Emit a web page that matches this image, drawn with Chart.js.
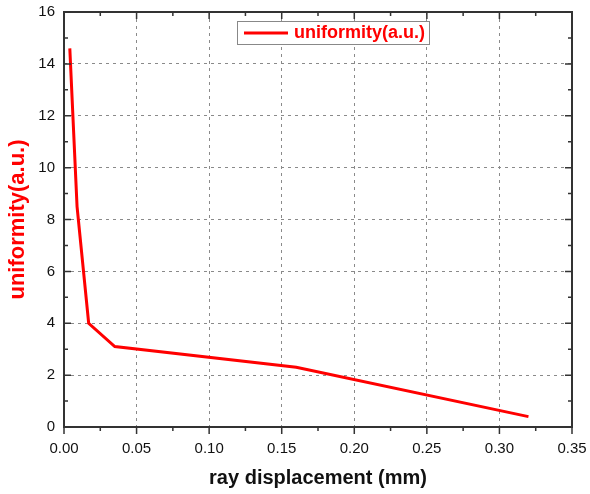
<!DOCTYPE html>
<html>
<head>
<meta charset="utf-8">
<script src="https://cdn.jsdelivr.net/npm/chart.js@4"></script>
<style>
    html, body { margin: 0; padding: 0; background: #fff; }
    #wrap { width: 590px; height: 494px; }
</style>
</head>
<body>
<div id="wrap"><canvas id="chart" width="590" height="494"></canvas></div>
<script>
// Data
const displacement = [0.004, 0.009, 0.017, 0.035, 0.16, 0.32];
const uniformity = [14.6, 8.5, 4.0, 3.1, 2.3, 0.4];
const xTicks = [0, 0.05, 0.10, 0.15, 0.20, 0.25, 0.30, 0.35];
const yTicks = [0, 2, 4, 6, 8, 10, 12, 14, 16];
const seriesLabel = 'uniformity(a.u.)';

const RED = '#ff0000';
const AXIS = '#333333';

// Box frame with inward ticks (left/top/right) and outward ticks at the bottom
const framePlugin = {
    id: 'frame',
    afterDraw(chart) {
        const { ctx, chartArea: a, scales } = chart;
        const x = scales.x, y = scales.y;
        ctx.save();
        ctx.strokeStyle = AXIS;
        ctx.lineWidth = 2;
        ctx.strokeRect(a.left, a.top, a.right - a.left, a.bottom - a.top);

        ctx.lineWidth = 1.5;
        ctx.beginPath();
        xTicks.forEach((v, i) => {
            const px = x.getPixelForValue(v);
            ctx.moveTo(px, a.bottom); ctx.lineTo(px, a.bottom + 7);
            ctx.moveTo(px, a.top); ctx.lineTo(px, a.top + 7);
            if (i < xTicks.length - 1) {
                const pm = x.getPixelForValue(v + 0.025);
                ctx.moveTo(pm, a.bottom); ctx.lineTo(pm, a.bottom + 4);
                ctx.moveTo(pm, a.top); ctx.lineTo(pm, a.top + 4);
            }
        });
        yTicks.forEach((v, i) => {
            const py = y.getPixelForValue(v);
            ctx.moveTo(a.left, py); ctx.lineTo(a.left + 7, py);
            ctx.moveTo(a.right, py); ctx.lineTo(a.right - 7, py);
            if (i < yTicks.length - 1) {
                const pm = y.getPixelForValue(v + 1);
                ctx.moveTo(a.left, pm); ctx.lineTo(a.left + 4, pm);
                ctx.moveTo(a.right, pm); ctx.lineTo(a.right - 4, pm);
            }
        });
        ctx.stroke();
        ctx.restore();
    }
};

// Legend box inside the plot, near the top
const legendPlugin = {
    id: 'boxLegend',
    afterDraw(chart) {
        const { ctx } = chart;
        const ds = chart.data.datasets[0];
        ctx.save();
        ctx.fillStyle = '#fff';
        ctx.fillRect(237, 21, 192, 23);
        ctx.strokeStyle = '#888';
        ctx.lineWidth = 1;
        ctx.strokeRect(237.5, 21.5, 192, 23);
        ctx.strokeStyle = ds.borderColor;
        ctx.lineWidth = 3;
        ctx.beginPath();
        ctx.moveTo(244, 33);
        ctx.lineTo(288, 33);
        ctx.stroke();
        ctx.fillStyle = ds.borderColor;
        ctx.font = 'bold 18px "Liberation Sans", Arial, sans-serif';
        ctx.textBaseline = 'middle';
        ctx.fillText(ds.label, 294, 33);
        ctx.restore();
    }
};

const gridOpts = {
    color: '#8a8a8a',
    lineWidth: 1,
    drawTicks: false
};

new Chart(document.getElementById('chart'), {
    type: 'line',
    data: {
        datasets: [{
            label: seriesLabel,
            data: displacement.map((v, i) => ({ x: v, y: uniformity[i] })),
            borderColor: RED,
            backgroundColor: RED,
            borderWidth: 3,
            pointRadius: 0,
            tension: 0,
            fill: false
        }]
    },
    options: {
        responsive: false,
        animation: false,
        layout: { padding: { top: 12, right: 18, left: 0, bottom: 0 } },
        plugins: {
            legend: { display: false },
            tooltip: { enabled: false }
        },
        scales: {
            x: {
                type: 'linear',
                min: 0,
                max: 0.35,
                afterBuildTicks: s => { s.ticks = xTicks.map(v => ({ value: v })); },
                afterFit: s => { s.height = 67; s.paddingRight = 0; s.paddingLeft = 0; },
                grid: gridOpts,
                border: { display: false, dash: [3, 4] },
                ticks: {
                    padding: 13,
                    color: '#111',
                    font: { family: '"Liberation Sans", Arial, sans-serif', size: 15 },
                    callback: v => v.toFixed(2)
                },
                title: {
                    display: true,
                    text: 'ray displacement (mm)',
                    color: '#111',
                    font: { family: '"Liberation Sans", Arial, sans-serif', size: 20, weight: 'bold' },
                    padding: { bottom: 4, top: 0 }
                }
            },
            y: {
                min: 0,
                max: 16,
                afterBuildTicks: s => { s.ticks = yTicks.map(v => ({ value: v })); },
                afterFit: s => { s.width = 64; s.paddingTop = 0; s.paddingBottom = 0; },
                grid: gridOpts,
                border: { display: false, dash: [3, 4] },
                ticks: {
                    padding: 9,
                    color: '#111',
                    font: { family: '"Liberation Sans", Arial, sans-serif', size: 15 }
                },
                title: {
                    display: true,
                    text: 'uniformity(a.u.)',
                    color: RED,
                    font: { family: '"Liberation Sans", Arial, sans-serif', size: 22, weight: 'bold' },
                    padding: { top: 5, bottom: 0 }
                }
            }
        }
    },
    plugins: [framePlugin, legendPlugin]
});
</script>
</body>
</html>
